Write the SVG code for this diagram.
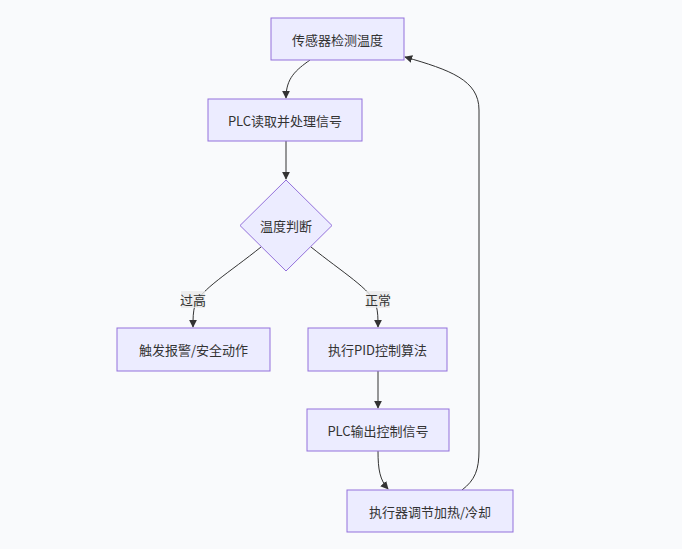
<svg xmlns="http://www.w3.org/2000/svg" width="682" height="549" viewBox="0 0 682 549">
<defs>
<style>
.node rect,.node polygon{fill:#ECECFF;stroke:#9370DB;stroke-width:1}
.node text,.lbl text{font-family:"Noto Sans CJK SC","Liberation Sans",sans-serif;font-size:13px;fill:#333;text-anchor:middle;dominant-baseline:central}
.edge{fill:none;stroke:#333;stroke-width:1}
.lbl rect{fill:#e8e8e8;opacity:0.8}
</style>
<marker id="arr" viewBox="0 0 10 10" refX="9" refY="5" markerWidth="8" markerHeight="8" orient="auto-start-reverse" markerUnits="userSpaceOnUse">
<path d="M0,0 L10,5 L0,10 z" fill="#333"/>
</marker>
</defs>
<rect width="682" height="549" fill="#f9fafc"/>
<g id="connectors">
<path class="edge" d="M310,60 C296,70 286,78 286,98" marker-end="url(#arr)"/>
<path class="edge" d="M286,141 L286,179" marker-end="url(#arr)"/>
<path class="edge" d="M261,247 C230,272 200,290 195,305 C193,312 193,318 193,327" marker-end="url(#arr)"/>
<path class="edge" d="M311,247 C342,272 372,290 376,305 C378,312 378,318 378,327" marker-end="url(#arr)"/>
<path class="edge" d="M378,371 L378,408" marker-end="url(#arr)"/>
<path class="edge" d="M378,451 C378,470 380,480 388,489" marker-end="url(#arr)"/>
<path class="edge" d="M462,490 C475,480 479,470 479,450 L479,110 C479,80 450,70 405,57" marker-end="url(#arr)"/>
</g>
<g id="lbl-high" class="lbl"><rect x="181" y="291" width="24" height="17"/><text x="193" y="299.5">过高</text></g>
<g id="lbl-normal" class="lbl"><rect x="366" y="291" width="24" height="17"/><text x="378" y="299.5">正常</text></g>
<g id="A" class="node"><rect x="271" y="18" width="133" height="42"/><text x="337.5" y="39">传感器检测温度</text></g>
<g id="B" class="node"><rect x="208" y="99" width="154" height="42"/><text x="285" y="120">PLC读取并处理信号</text></g>
<g id="C" class="node"><polygon points="286,180 332,225.5 286,271 240,225.5"/><text x="286" y="225.5">温度判断</text></g>
<g id="D" class="node"><rect x="117" y="328" width="153" height="43"/><text x="193.5" y="349.5">触发报警/安全动作</text></g>
<g id="E" class="node"><rect x="308" y="328" width="139" height="43"/><text x="377.5" y="349.5">执行PID控制算法</text></g>
<g id="F" class="node"><rect x="307" y="409" width="142" height="42"/><text x="378" y="430">PLC输出控制信号</text></g>
<g id="G" class="node"><rect x="347" y="490" width="166" height="42"/><text x="430" y="511">执行器调节加热/冷却</text></g>
</svg>
